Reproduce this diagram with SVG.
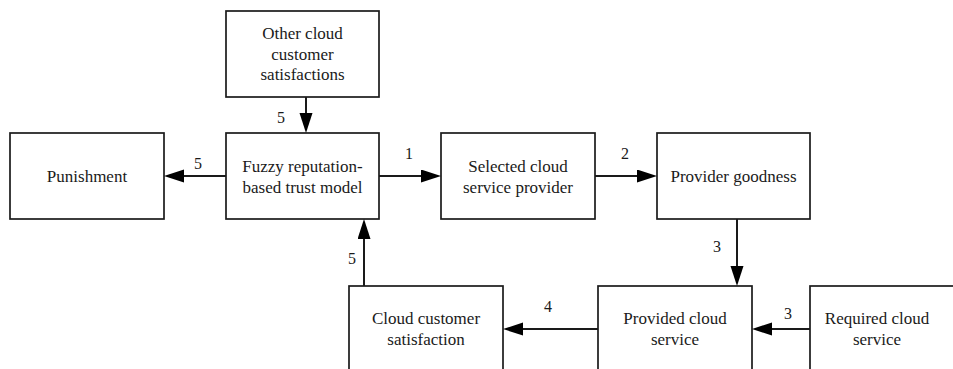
<svg xmlns="http://www.w3.org/2000/svg" width="953" height="369" viewBox="0 0 953 369">
  <style>
    .box { fill: #ffffff; stroke: #1a1a1a; stroke-width: 1.7; }
    .txt { font-size: 17px; fill: #1a1a1a; text-anchor: middle; }
    .lbl { font-size: 16px; fill: #1a1a1a; text-anchor: middle; }
    .edge { fill: none; stroke: #1a1a1a; stroke-width: 2; marker-end: url(#arrow); }
  </style>
  <defs>
    <marker id="arrow" markerUnits="userSpaceOnUse" markerWidth="20" markerHeight="14" refX="10" refY="6.5" orient="auto">
      <path d="M0,0 L20,6.5 L0,13 Z" fill="#000000"/>
    </marker>
  </defs>
  <rect x="0" y="0" width="953" height="369" fill="#ffffff"/>

  <g font-family="'Liberation Serif', 'Times New Roman', Times, 'DejaVu Serif', serif">
  <g id="other-satisfactions">
    <rect class="box" x="226" y="11" width="153" height="86"/>
    <text class="txt" x="302.5" y="39">Other cloud</text>
    <text class="txt" x="302.5" y="59.5">customer</text>
    <text class="txt" x="302.5" y="80">satisfactions</text>
  </g>
  <g id="punishment">
    <rect class="box" x="10" y="133" width="154" height="86"/>
    <text class="txt" x="87" y="182">Punishment</text>
  </g>
  <g id="fuzzy-model">
    <rect class="box" x="226" y="133" width="153" height="86"/>
    <text class="txt" x="302.5" y="172">Fuzzy reputation-</text>
    <text class="txt" x="302.5" y="192.5">based trust model</text>
  </g>
  <g id="selected-provider">
    <rect class="box" x="441" y="133" width="154" height="86"/>
    <text class="txt" x="518" y="172">Selected cloud</text>
    <text class="txt" x="518" y="192.5">service provider</text>
  </g>
  <g id="provider-goodness">
    <rect class="box" x="657" y="133" width="153" height="86"/>
    <text class="txt" x="733.5" y="182">Provider goodness</text>
  </g>
  <g id="customer-satisfaction">
    <rect class="box" x="349" y="286" width="154" height="86"/>
    <text class="txt" x="426" y="324">Cloud customer</text>
    <text class="txt" x="426" y="344.5">satisfaction</text>
  </g>
  <g id="provided-service">
    <rect class="box" x="598" y="286" width="154" height="86"/>
    <text class="txt" x="675" y="324">Provided cloud</text>
    <text class="txt" x="675" y="344.5">service</text>
  </g>
  <g id="required-service">
    <rect class="box" x="810" y="286" width="154" height="86"/>
    <text class="txt" x="877" y="324">Required cloud</text>
    <text class="txt" x="877" y="344.5">service</text>
  </g>

  <g id="connectors">
    <line class="edge" x1="306" y1="97" x2="306" y2="123"/>
    <line class="edge" x1="226" y1="176" x2="174" y2="176"/>
    <line class="edge" x1="379" y1="176" x2="431" y2="176"/>
    <line class="edge" x1="595" y1="176" x2="647" y2="176"/>
    <line class="edge" x1="737" y1="219" x2="737" y2="276"/>
    <line class="edge" x1="810" y1="329" x2="762" y2="329"/>
    <line class="edge" x1="598" y1="329" x2="513" y2="329"/>
    <line class="edge" x1="364" y1="286" x2="364" y2="229"/>
    <text class="lbl" x="281" y="123">5</text>
    <text class="lbl" x="198" y="169">5</text>
    <text class="lbl" x="409" y="159">1</text>
    <text class="lbl" x="625" y="159">2</text>
    <text class="lbl" x="717" y="252">3</text>
    <text class="lbl" x="788" y="319">3</text>
    <text class="lbl" x="548" y="312">4</text>
    <text class="lbl" x="352" y="264">5</text>
  </g>
  </g>
</svg>
